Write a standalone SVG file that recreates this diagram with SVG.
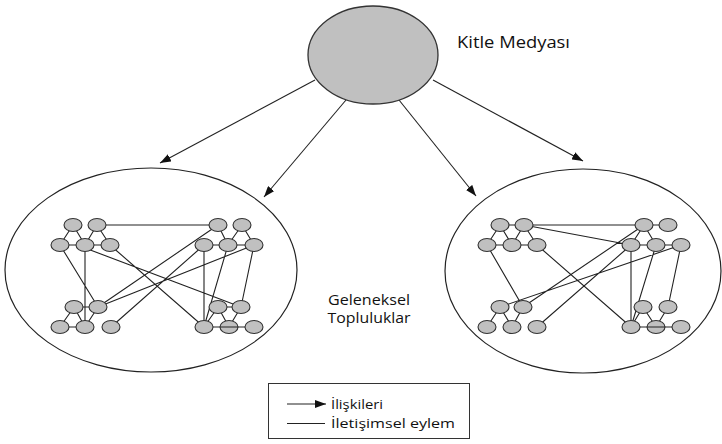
<svg xmlns="http://www.w3.org/2000/svg" width="722" height="444" viewBox="0 0 722 444">
<style>
.n{fill:#c0c0c0;stroke:#333;stroke-width:1.1}
.big{fill:#fff;stroke:#222;stroke-width:1.2}
.e{stroke:#222;stroke-width:1.1;fill:none}
.a{stroke:#222;stroke-width:1.1;fill:none;marker-end:url(#ah)}
.t{font-family:"Open Sans","Liberation Sans",sans-serif;fill:#111}
</style>
<defs>
<marker id="ah" markerUnits="userSpaceOnUse" markerWidth="11" markerHeight="8" refX="11" refY="4" orient="auto">
<path d="M0,0 L11,4 L0,8 z" fill="#111"/>
</marker>
</defs>
<rect width="722" height="444" fill="#fff"/>
<g id="community-left"><ellipse class="big" cx="151" cy="270" rx="146" ry="102"/></g>
<g id="community-right"><ellipse class="big" cx="583" cy="271" rx="138" ry="102"/></g>
<g id="connectors">
<line class="a" x1="315" y1="80" x2="160" y2="163"/>
<line class="a" x1="346" y1="100" x2="264" y2="197"/>
<line class="a" x1="399" y1="100" x2="476" y2="196"/>
<line class="a" x1="433" y1="80" x2="583" y2="161"/>
<path class="e" d="M73,225L60,245 M73,225L85,245 M97,225L85,245 M97,225L110,245 M60,245L110,245 M97,225L218,225 M218,225L228,245 M242,225L228,245 M242,225L254,245 M204,245L254,245 M74,307L98,307 M74,307L60,327 M74,307L85,327 M98,307L85,327 M60,327L85,327 M218,307L241,307 M218,307L204,327 M218,307L229,327 M241,307L229,327 M60,245L98,307 M85,245L85,327 M85,248L241,307 M110,245L204,327 M218,225L98,307 M204,245L111,327 M254,245L98,307 M204,245L204,327 M228,245L204,327 M254,245L241,307"/>
<path class="e" d="M500,225L524,225 M500,225L487,245 M500,225L512,245 M524,225L512,245 M524,225L537,245 M487,245L537,245 M524,225L644,225 M524,225L631,245 M644,225L668,225 M644,225L631,245 M644,225L656,245 M631,245L681,245 M500,307L487,327 M500,307L512,327 M523,307L512,327 M643,307L631,327 M643,307L656,327 M668,307L656,327 M487,245L523,307 M537,245L631,327 M644,225L523,307 M631,245L537,327 M681,245L500,307 M631,245L631,327 M656,245L631,327 M681,245L668,307"/>
</g>
<g id="mass-media"><ellipse cx="373" cy="55" rx="65" ry="49" fill="#c0c0c0" stroke="#333" stroke-width="1.3"/></g>
<g id="nodes-left">
<g id="L-A1"><ellipse class="n" cx="73" cy="225" rx="9" ry="6.5"/></g>
<g id="L-A2"><ellipse class="n" cx="97" cy="225" rx="9" ry="6.5"/></g>
<g id="L-B1"><ellipse class="n" cx="60" cy="245" rx="9" ry="6.5"/></g>
<g id="L-B2"><ellipse class="n" cx="85" cy="245" rx="9" ry="6.5"/></g>
<g id="L-B3"><ellipse class="n" cx="110" cy="245" rx="9" ry="6.5"/></g>
<g id="L-A3"><ellipse class="n" cx="218" cy="225" rx="9" ry="6.5"/></g>
<g id="L-A4"><ellipse class="n" cx="242" cy="225" rx="9" ry="6.5"/></g>
<g id="L-B4"><ellipse class="n" cx="204" cy="245" rx="9" ry="6.5"/></g>
<g id="L-B5"><ellipse class="n" cx="228" cy="245" rx="9" ry="6.5"/></g>
<g id="L-B6"><ellipse class="n" cx="254" cy="245" rx="9" ry="6.5"/></g>
<g id="L-C1"><ellipse class="n" cx="74" cy="307" rx="9" ry="6.5"/></g>
<g id="L-C2"><ellipse class="n" cx="98" cy="307" rx="9" ry="6.5"/></g>
<g id="L-D1"><ellipse class="n" cx="60" cy="327" rx="9" ry="6.5"/></g>
<g id="L-D2"><ellipse class="n" cx="85" cy="327" rx="9" ry="6.5"/></g>
<g id="L-D3"><ellipse class="n" cx="111" cy="327" rx="9" ry="6.5"/></g>
<g id="L-C3"><ellipse class="n" cx="218" cy="307" rx="9" ry="6.5"/></g>
<g id="L-C4"><ellipse class="n" cx="241" cy="307" rx="9" ry="6.5"/></g>
<g id="L-D4"><ellipse class="n" cx="204" cy="327" rx="9" ry="6.5"/></g>
<g id="L-D5"><ellipse class="n" cx="229" cy="327" rx="9" ry="6.5"/></g>
<g id="L-D6"><ellipse class="n" cx="254" cy="327" rx="9" ry="6.5"/></g>
</g>
<g id="nodes-right">
<g id="R-A1"><ellipse class="n" cx="500" cy="225" rx="9" ry="6.5"/></g>
<g id="R-A2"><ellipse class="n" cx="524" cy="225" rx="9" ry="6.5"/></g>
<g id="R-B1"><ellipse class="n" cx="487" cy="245" rx="9" ry="6.5"/></g>
<g id="R-B2"><ellipse class="n" cx="512" cy="245" rx="9" ry="6.5"/></g>
<g id="R-B3"><ellipse class="n" cx="537" cy="245" rx="9" ry="6.5"/></g>
<g id="R-A3"><ellipse class="n" cx="644" cy="225" rx="9" ry="6.5"/></g>
<g id="R-A4"><ellipse class="n" cx="668" cy="225" rx="9" ry="6.5"/></g>
<g id="R-B4"><ellipse class="n" cx="631" cy="245" rx="9" ry="6.5"/></g>
<g id="R-B5"><ellipse class="n" cx="656" cy="245" rx="9" ry="6.5"/></g>
<g id="R-B6"><ellipse class="n" cx="681" cy="245" rx="9" ry="6.5"/></g>
<g id="R-C1"><ellipse class="n" cx="500" cy="307" rx="9" ry="6.5"/></g>
<g id="R-C2"><ellipse class="n" cx="523" cy="307" rx="9" ry="6.5"/></g>
<g id="R-D1"><ellipse class="n" cx="487" cy="327" rx="9" ry="6.5"/></g>
<g id="R-D2"><ellipse class="n" cx="512" cy="327" rx="9" ry="6.5"/></g>
<g id="R-D3"><ellipse class="n" cx="537" cy="327" rx="9" ry="6.5"/></g>
<g id="R-C3"><ellipse class="n" cx="643" cy="307" rx="9" ry="6.5"/></g>
<g id="R-C4"><ellipse class="n" cx="668" cy="307" rx="9" ry="6.5"/></g>
<g id="R-D4"><ellipse class="n" cx="631" cy="327" rx="9" ry="6.5"/></g>
<g id="R-D5"><ellipse class="n" cx="656" cy="327" rx="9" ry="6.5"/></g>
<g id="R-D6"><ellipse class="n" cx="681" cy="327" rx="9" ry="6.5"/></g>
</g>
<g id="connectors-over">
<path class="e" d="M213,327L245,327 M640,327L672,327"/>
</g>
<text class="t" x="457" y="48" font-size="15.5" textLength="113" lengthAdjust="spacingAndGlyphs">Kitle Medyası</text>
<text class="t" x="369" y="305" font-size="14.5" text-anchor="middle" textLength="82" lengthAdjust="spacingAndGlyphs">Geleneksel</text>
<text class="t" x="369" y="323" font-size="14.5" text-anchor="middle" textLength="83" lengthAdjust="spacingAndGlyphs">Topluluklar</text>
<g id="legend">
<rect x="268.5" y="383.5" width="201" height="55" fill="#fff" stroke="#333" stroke-width="1"/>
<line class="a" x1="287" y1="404" x2="326" y2="404"/>
<line class="e" x1="287" y1="423.5" x2="325" y2="423.5"/>
<text class="t" x="331" y="408.5" font-size="13.5" textLength="52" lengthAdjust="spacingAndGlyphs">İlişkileri</text>
<text class="t" x="331" y="428" font-size="13.5" textLength="124" lengthAdjust="spacingAndGlyphs">İletişimsel eylem</text>
</g>
</svg>
